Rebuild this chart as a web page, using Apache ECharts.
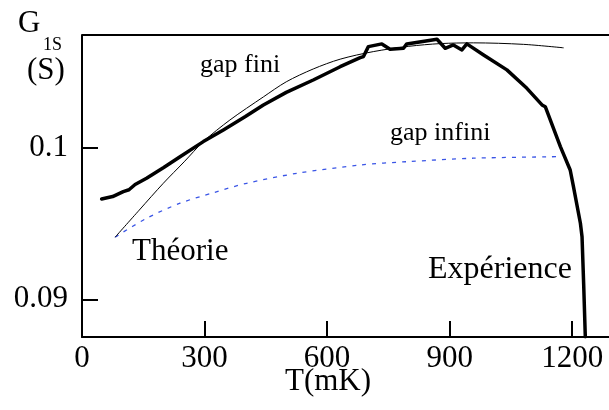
<!DOCTYPE html>
<html>
<head>
<meta charset="utf-8">
<script src="https://cdn.jsdelivr.net/npm/echarts@6/dist/echarts.min.js"></script>
<style>html,body{margin:0;padding:0;background:#fff}#c{width:609px;height:410px}</style>
</head>
<body>
<div id="c"></div>
<script>
// Experience (thick black): [T (mK), G (S)]
const experience = [
  [48,0.09664],[75,0.09680],[101,0.09713],[115,0.09725],[130,0.09760],[158,0.09801],[200,0.09872],[240,0.09944],
  [297,0.10044],[346,0.10121],[400,0.10210],[444,0.10287],[500,0.10370],[566,0.10452],[632,0.10540],
  [681,0.10600],[689,0.10607],[701,0.10673],[734,0.10691],[754,0.10656],[787,0.10662],[795,0.10691],
  [869,0.10722],[889,0.10662],[909,0.10684],[930,0.10651],[942,0.10691],[983,0.10618],[1040,0.10519],
  [1089,0.10397],[1126,0.10287],[1134,0.10275],[1171,0.10011],[1195,0.09856],[1203,0.09746],
  [1220,0.09503],[1224,0.09414],[1228,0.09100],[1232,0.08752]
];
// Theory, finite gap (thin black)
const gapFini = [
  [81,0.09411],[140,0.09590],[199,0.09768],[250,0.09910],[297,0.10044],[362,0.10187],[444,0.10340],
  [500,0.10440],[566,0.10525],[632,0.10590],[713,0.10640],[800,0.10675],[877,0.10693],[958,0.10698],[1081,0.10688],[1179,0.10665]
];
// Theory, infinite gap (blue dotted)
const gapInfini = [
  [81,0.09411],[158,0.09536],[240,0.09636],[322,0.09706],[403,0.09768],[526,0.09834],
  [681,0.09889],[795,0.09911],[958,0.09934],[1163,0.09944]
];
const xTicks = [0,300,600,900,1200];
const yTicks = [0.09,0.1];

const serif = '"Liberation Serif","Times New Roman",serif';
const chart = echarts.init(document.getElementById('c'), null, {renderer:'canvas'});
chart.setOption({
  animation:false,
  backgroundColor:'#fff',
  grid:{left:82,right:0,top:35,bottom:73,containLabel:false},
  xAxis:{
    type:'value',min:0,max:1290,
    axisLine:{show:true,lineStyle:{color:'#000',width:2}},
    axisTick:{show:true,inside:true,length:16,lineStyle:{color:'#000',width:2},customValues:xTicks},
    axisLabel:{show:true,margin:6,color:'#000',fontFamily:serif,fontSize:31,customValues:xTicks,
      formatter:v=>String(v)},
    splitLine:{show:false}
  },
  yAxis:{
    type:'value',min:0.0875,max:0.1075,
    axisLine:{show:true,lineStyle:{color:'#000',width:2}},
    axisTick:{show:true,inside:true,length:16,lineStyle:{color:'#000',width:2},customValues:yTicks},
    axisLabel:{show:true,margin:14,color:'#000',fontFamily:serif,fontSize:31,customValues:yTicks,
      formatter:v=>(Math.abs(v-0.1)<1e-9?'0.1':'0.09')},
    splitLine:{show:false}
  },
  series:[
    {type:'line',data:gapInfini,showSymbol:false,smooth:0.3,
      lineStyle:{color:'#3a55e6',width:1.3,type:[4,6]}},
    {type:'line',data:gapFini,showSymbol:false,smooth:0.3,
      lineStyle:{color:'#000',width:1}},
    {type:'line',data:experience,showSymbol:false,smooth:false,
      lineStyle:{color:'#000',width:3.5,join:'round',cap:'round'}}
  ],
  graphic:[
    {type:'line',shape:{x1:82,y1:35,x2:609,y2:35},style:{stroke:'#000',lineWidth:2}},
    {type:'text',left:18,top:8,style:{text:'G',font:'31px '+serif,fill:'#000'}},
    {type:'text',left:43,top:36,style:{text:'1S',font:'18px '+serif,fill:'#000'}},
    {type:'text',left:27,top:55,style:{text:'(S)',font:'31px '+serif,fill:'#000'}},
    {type:'text',left:200,top:52,style:{text:'gap fini',font:'26px '+serif,fill:'#000'}},
    {type:'text',left:390,top:120,style:{text:'gap infini',font:'26px '+serif,fill:'#000'}},
    {type:'text',left:132,top:236,style:{text:'Théorie',font:'31px '+serif,fill:'#000'}},
    {type:'text',left:428,top:254,style:{text:'Expérience',font:'32px '+serif,fill:'#000'}},
    {type:'text',left:285,top:366,style:{text:'T(mK)',font:'31px '+serif,fill:'#000'}}
  ]
});
</script>
</body>
</html>
